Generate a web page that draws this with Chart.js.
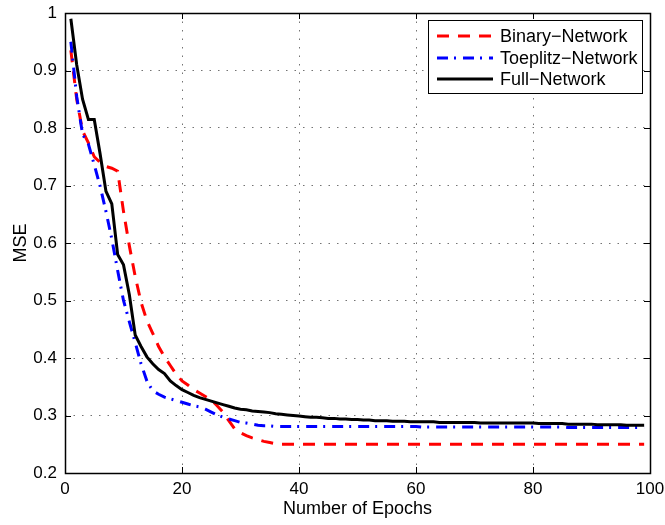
<!DOCTYPE html>
<html>
<head>
<meta charset="utf-8">
<script src="https://cdn.jsdelivr.net/npm/chart.js@4"></script>
<style>
  html, body { margin: 0; padding: 0; background: #fff; }
  canvas { display: block; }
</style>
</head>
<body>
<canvas id="c" width="665" height="525"></canvas>
<script>
const FONT = "'Liberation Sans', Arial, Helvetica, sans-serif";

const seriesNames = ['Binary\u2212Network', 'Toeplitz\u2212Network', 'Full\u2212Network'];

const epochs = [
  1,2,3,4,5,6,7,8,9,10,11,12,13,14,15,16,17,18,19,20,
  21,22,23,24,25,26,27,28,29,30,31,32,33,34,35,36,37,38,39,40,
  41,42,43,44,45,46,47,48,49,50,51,52,53,54,55,56,57,58,59,60,
  61,62,63,64,65,66,67,68,69,70,71,72,73,74,75,76,77,78,79,80,
  81,82,83,84,85,86,87,88,89,90,91,92,93,94,95,96,97,98,99
];

const binaryMSE = [
  0.935,0.85,0.795,0.774,0.75,0.74,0.733,0.73,0.725,0.655,
  0.595,0.542,0.497,0.465,0.443,0.42,0.402,0.387,0.372,0.36,
  0.353,0.345,0.339,0.333,0.327,0.317,0.306,0.291,0.277,0.27,
  0.265,0.261,0.258,0.255,0.253,0.251,0.25,0.25,0.25,0.25,
  0.25,0.25,0.25,0.25,0.25,0.25,0.25,0.25,0.25,0.25,
  0.25,0.25,0.25,0.25,0.25,0.25,0.25,0.25,0.25,0.25,
  0.25,0.25,0.25,0.25,0.25,0.25,0.25,0.25,0.25,0.25,
  0.25,0.25,0.25,0.25,0.25,0.25,0.25,0.25,0.25,0.25,
  0.25,0.25,0.25,0.25,0.25,0.25,0.25,0.25,0.25,0.25,
  0.25,0.25,0.25,0.25,0.25,0.25,0.25,0.25,0.25
];

const toeplitzMSE = [
  0.95,0.855,0.789,0.772,0.736,0.699,0.655,0.607,0.552,0.50,
  0.463,0.427,0.39,0.36,0.343,0.337,0.332,0.329,0.326,0.323,
  0.32,0.317,0.315,0.311,0.306,0.301,0.297,0.294,0.291,0.288,
  0.287,0.285,0.283,0.282,0.282,0.281,0.281,0.281,0.281,0.281,
  0.281,0.281,0.281,0.281,0.281,0.281,0.281,0.281,0.281,0.281,
  0.281,0.281,0.281,0.281,0.281,0.281,0.281,0.281,0.281,0.281,
  0.28,0.28,0.28,0.28,0.28,0.28,0.28,0.28,0.28,0.28,
  0.28,0.28,0.28,0.28,0.28,0.28,0.28,0.28,0.28,0.28,
  0.28,0.28,0.28,0.28,0.28,0.279,0.279,0.279,0.279,0.279,
  0.279,0.279,0.279,0.279,0.279,0.279,0.279,0.279,0.279
];

const fullMSE = [
  0.99,0.91,0.85,0.815,0.815,0.755,0.69,0.668,0.58,0.562,
  0.51,0.44,0.42,0.402,0.39,0.38,0.373,0.36,0.352,0.345,
  0.34,0.335,0.331,0.328,0.325,0.322,0.319,0.316,0.313,0.311,
  0.31,0.308,0.307,0.306,0.305,0.303,0.302,0.301,0.3,0.299,
  0.298,0.297,0.297,0.296,0.295,0.295,0.294,0.294,0.293,0.293,
  0.292,0.292,0.291,0.291,0.291,0.29,0.29,0.29,0.289,0.289,
  0.289,0.289,0.289,0.288,0.288,0.288,0.288,0.288,0.288,0.288,
  0.287,0.287,0.287,0.287,0.287,0.287,0.287,0.287,0.287,0.287,
  0.286,0.286,0.286,0.286,0.286,0.285,0.285,0.285,0.285,0.285,
  0.284,0.284,0.284,0.284,0.284,0.283,0.283,0.283,0.283
];

const xTicks = [0, 20, 40, 60, 80, 100];
const yTicks = [0.2, 0.3, 0.4, 0.5, 0.6, 0.7, 0.8, 0.9, 1];
const yTickLabels = ['0.2', '0.3', '0.4', '0.5', '0.6', '0.7', '0.8', '0.9', '1'];

function pts(vals) { return epochs.map((e, i) => ({ x: e, y: vals[i] })); }

const framePlugin = {
  id: 'frame',
  afterDatasetsDraw(chart) {
    const { ctx, chartArea: a, scales: { x, y } } = chart;
    ctx.save();
    ctx.strokeStyle = '#000';
    ctx.lineWidth = 1;
    ctx.setLineDash([]);
    const tl = 6;
    ctx.beginPath();
    xTicks.forEach(v => {
      const px = Math.round(x.getPixelForValue(v)) + 0.5;
      ctx.moveTo(px, a.bottom); ctx.lineTo(px, a.bottom - tl);
      ctx.moveTo(px, a.top); ctx.lineTo(px, a.top + tl);
    });
    yTicks.forEach(v => {
      const py = Math.round(y.getPixelForValue(v)) + 0.5;
      ctx.moveTo(a.left, py); ctx.lineTo(a.left + tl, py);
      ctx.moveTo(a.right, py); ctx.lineTo(a.right - tl, py);
    });
    ctx.stroke();
    ctx.lineWidth = 1.5;
    ctx.strokeRect(Math.round(a.left) + 0.5, Math.round(a.top) + 0.5,
                   Math.round(a.right - a.left), Math.round(a.bottom - a.top));
    ctx.restore();
  },
  afterDraw(chart) {
    const { ctx, chartArea: a } = chart;
    const w = 214, h = 73;
    const left = a.right - 8 - w, top = a.top + 7;
    ctx.save();
    ctx.fillStyle = '#fff';
    ctx.fillRect(left, top, w, h);
    ctx.strokeStyle = '#000';
    ctx.lineWidth = 1;
    ctx.setLineDash([]);
    ctx.strokeRect(left + 0.5, top + 0.5, w, h);
    ctx.font = '18px ' + FONT;
    ctx.textBaseline = 'middle';
    ctx.fillStyle = '#000';
    const rows = [16, 38, 59];
    chart.data.datasets.forEach((ds, i) => {
      const yy = top + rows[i];
      ctx.save();
      ctx.strokeStyle = ds.borderColor;
      ctx.lineWidth = ds.borderWidth;
      ctx.setLineDash(ds.borderDash || []);
      ctx.beginPath();
      ctx.moveTo(left + 9, yy);
      ctx.lineTo(left + 65, yy);
      ctx.stroke();
      ctx.restore();
      ctx.fillText(ds.label, left + 72, yy + 1);
    });
    ctx.restore();
  }
};

const gridCommon = {
  color: 'rgba(0,0,0,0.55)',
  lineWidth: 1,
  drawTicks: false
};

new Chart(document.getElementById('c'), {
  type: 'line',
  data: {
    datasets: [
      { label: seriesNames[0], data: pts(binaryMSE), borderColor: '#ff0000',
        borderWidth: 3, borderDash: [12, 9], order: 2 },
      { label: seriesNames[1], data: pts(toeplitzMSE), borderColor: '#0000ff',
        borderWidth: 3, borderDash: [11, 6, 2, 7], order: 1 },
      { label: seriesNames[2], data: pts(fullMSE), borderColor: '#000000',
        borderWidth: 3, order: 0 }
    ]
  },
  options: {
    responsive: false,
    animation: false,
    devicePixelRatio: 1,
    layout: { padding: { top: 13, right: 15, left: 0, bottom: 0 } },
    elements: { point: { radius: 0 }, line: { tension: 0, fill: false, borderCapStyle: 'butt', borderJoinStyle: 'miter' } },
    plugins: { legend: { display: false }, tooltip: { enabled: false } },
    scales: {
      x: {
        type: 'linear', min: 0, max: 100,
        afterBuildTicks(s) { s.ticks = xTicks.map(v => ({ value: v })); },
        afterFit(s) { s.height = 52; s.paddingLeft = 0; s.paddingRight = 0; },
        ticks: { color: '#000', font: { family: FONT, size: 17 }, padding: 6, maxRotation: 0,
                 callback: v => String(v) },
        grid: gridCommon,
        border: { display: false, dash: [1.5, 7] },
        title: { display: true, text: 'Number of Epochs', color: '#000',
                 font: { family: FONT, size: 18 }, padding: { top: 0, bottom: 5 } }
      },
      y: {
        type: 'linear', min: 0.2, max: 1,
        afterBuildTicks(s) { s.ticks = yTicks.map(v => ({ value: v })); },
        afterFit(s) { s.width = 65; s.paddingTop = 0; s.paddingBottom = 0; },
        ticks: { color: '#000', font: { family: FONT, size: 17 }, padding: 8,
                 callback: (v, i) => yTickLabels[i] },
        grid: gridCommon,
        border: { display: false, dash: [1.5, 7] },
        title: { display: true, text: 'MSE', color: '#000',
                 font: { family: FONT, size: 18 }, padding: { top: 10, bottom: 0 } }
      }
    }
  },
  plugins: [framePlugin]
});
</script>
</body>
</html>
